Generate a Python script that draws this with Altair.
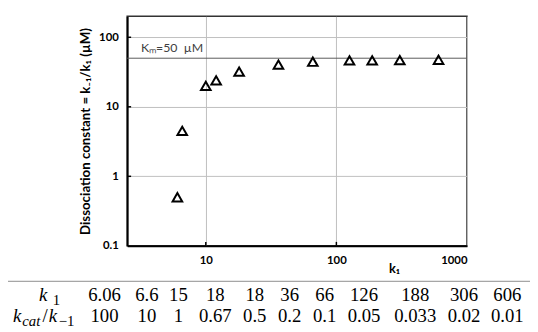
import altair as alt
import pandas as pd

# ---- data ----
k1_plot = [6.06, 6.6, 10, 12, 18, 36, 66, 126, 188, 306, 606]
kd_plot = [0.5, 4.5, 20, 24, 32, 40.5, 44.5, 46.5, 46.5, 47, 47.5]
km_value = 50.0

table_k1 = ["6.06", "6.6", "15", "18", "18", "36", "66", "126", "188", "306", "606"]
table_ratio = ["100", "10", "1", "0.67", "0.5", "0.2", "0.1", "0.05", "0.033", "0.02", "0.01"]

y_ticks = [0.1, 1.0, 10.0, 100.0]
x_ticks = [10.0, 100.0, 1000.0]
y_minor = [1.0, 10.0, 100.0]
x_minor = [10.0, 100.0]

# ---- layout (pixels) ----
W, H = 345, 233
OX, OY = 129, 14            # plot origin on the page
col_centers = [106, 149, 181, 218.5, 258.5, 294, 329.5, 369.5, 421.5, 471, 515]
row_base = [303, 324]

SANS = "Lato"
SERIF = "Liberation Serif"
GRID = "#bfbfbf"

pts = pd.DataFrame({"k1": k1_plot, "kd": kd_plot})

xscale = alt.Scale(type="log", domain=[2.5, 1000], nice=False)
yscale = alt.Scale(type="log", domain=[0.1, 200], nice=False)

layers = []

km_rule = alt.Chart(pd.DataFrame({"km": [km_value]})).mark_rule(
    color="#595959", strokeWidth=1
).encode(y=alt.Y("km:Q", scale=yscale))

km_text = alt.Chart(pd.DataFrame({"km": [km_value], "t": ["Kₘ=50\u00a0\u00a0µM"]})).mark_text(
    align="left", baseline="alphabetic", font=SANS, fontSize=12.5, color="#404040", dy=-6
).encode(x=alt.value(14), y=alt.Y("km:Q", scale=yscale), text="t:N")
layers += [km_rule, km_text]

# small inward tick marks
for v in y_minor:
    layers.append(alt.Chart(pd.DataFrame({"ty": [v]})).mark_rule(color="black", strokeWidth=1.5).encode(
        y=alt.Y("ty:Q", scale=yscale), x=alt.value(0), x2=alt.value(4)))
for v in x_minor:
    layers.append(alt.Chart(pd.DataFrame({"tx": [v]})).mark_rule(color="black", strokeWidth=1.5).encode(
        x=alt.X("tx:Q", scale=xscale), y=alt.value(H - 4), y2=alt.value(H)))

points = alt.Chart(pts).mark_point(
    shape="triangle-up", filled=False, color="black", strokeWidth=2, size=95, opacity=1
).encode(
    x=alt.X("k1:Q", scale=xscale, axis=alt.Axis(
        values=x_ticks, format="d", title="k₁", labelFont=SANS, labelFontWeight="bold",
        labelFontSize=11.5, labelColor="black", labelPadding=9, ticks=False, tickSize=0,
        domainColor="black", domainWidth=2, grid=True, gridColor=GRID, gridWidth=1,
        titleFont=SANS, titleFontWeight="bold", titleFontSize=13, titleColor="black",
        titleX=271, titleY=27, titleBaseline="alphabetic")),
    y=alt.Y("kd:Q", scale=yscale, axis=alt.Axis(
        values=y_ticks, labelExpr="datum.value < 1 ? '0.1' : format(datum.value, 'd')",
        title="Dissociation constant = k₋₁/k₁ (µM)", labelFont=SANS, labelFontWeight="bold",
        labelFontSize=11.5, labelColor="black", labelPadding=9, ticks=False, tickSize=0,
        domainColor="black", domainWidth=2, grid=True, gridColor=GRID, gridWidth=1,
        titleFont=SANS, titleFontWeight="bold", titleFontSize=13.5, titleColor="black",
        titleAngle=270, titleX=-42, titleY=H / 2, titleBaseline="middle", titleAlign="center")),
)
layers.append(points)

# ---- table below the chart (pixel-placed text) ----
def cell(s, px, py, size=19, style="normal", align="center"):
    return alt.Chart(pd.DataFrame({"t": [s]})).mark_text(
        align=align, baseline="alphabetic", font=SERIF, fontSize=size,
        fontStyle=style, color="black"
    ).encode(x=alt.value(px - OX), y=alt.value(py - OY), text="t:N")

sep = alt.Chart(pd.DataFrame({"a": [0]})).mark_rule(color="#8c8c8c", strokeWidth=1).encode(
    x=alt.value(8 - OX), x2=alt.value(545 - OX), y=alt.value(283 - OY))
layers.append(sep)

for i, c in enumerate(col_centers):
    layers.append(cell(table_k1[i], c, row_base[0]))
    layers.append(cell(table_ratio[i], c, row_base[1]))

# row labels: k_1 and k_cat/k_-1
layers.append(cell("k", 39.5, row_base[0], 19, "italic", "left"))
layers.append(cell("1", 53.5, row_base[0] + 4, 15, "normal", "left"))
layers.append(cell("k", 13, row_base[1], 19, "italic", "left"))
layers.append(cell("cat", 22.5, row_base[1] + 4, 15, "italic", "left"))
layers.append(cell("/", 43, row_base[1], 19, "normal", "left"))
layers.append(cell("k", 49.5, row_base[1], 19, "italic", "left"))
layers.append(cell("−1", 59.5, row_base[1] + 4, 15, "normal", "left"))

chart = alt.layer(*layers).properties(
    width=W, height=H,
    autosize=alt.AutoSizeParams(type="none"),
    padding={"left": OX - 8, "top": OY - 8, "right": 538 - OX - W, "bottom": 332 - 8 - OY - H + 8},
    background="white",
).configure_view(stroke="#333333", strokeWidth=1.5)

chart.save("out.html", embed_options={"renderer": "svg", "actions": False})
